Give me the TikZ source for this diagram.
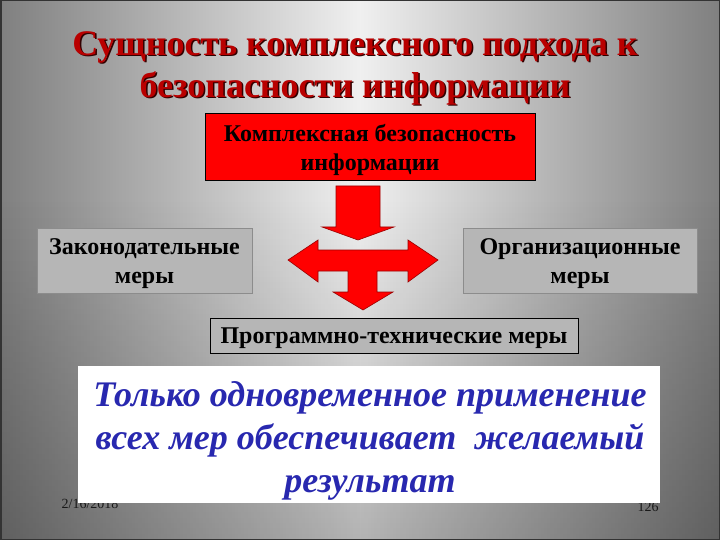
\documentclass[tikz,border=0pt]{standalone}
\usepackage{fontspec}
\setmainfont{Liberation Serif}
\usetikzlibrary{fadings}
\definecolor{titlered}{RGB}{185,0,0}
\definecolor{titleshadow}{RGB}{50,0,0}
\definecolor{boxgray}{RGB}{182,182,182}
\definecolor{textblue}{RGB}{40,40,175}

\begin{document}
\begin{tikzpicture}[x=1pt, y=-1pt,
  measure/.style={draw=black!45, fill=boxgray, inner sep=0pt},
  boxtext/.style={align=center, inner sep=0pt, yshift=-3pt,
    font=\bfseries\fontsize{24}{29}\selectfont},
  blockarrow/.style={fill=red, draw=red!60!black, line width=0.6pt, line join=miter}]
\useasboundingbox (0,0) rectangle (720,540);
% background
\shade [left color=black!50, right color=black!50, middle color=black!6] (0,0) rectangle (720,540);
\fill [black, opacity=0.25, path fading=north] (0,200) rectangle (720,540);
\draw [black!80, line width=1.5pt] (0.75,0.75) rectangle (719.25,539.25);

% title
\foreach \dx/\col in {1.5/titleshadow, 0/titlered}
  \node [text=\col, align=center, font=\bfseries\fontsize{36}{42}\selectfont]
    at (355+\dx,68+\dx) {Сущность комплексного подхода к\\безопасности информации};

% boxes
\node [measure, name=whole, fill=red, draw=black, minimum width=330, minimum height=67]
  at (370,146.5) {};
\node [measure, name=legal, minimum width=215, minimum height=65] at (144.5,260.5) {};
\node [measure, name=org, minimum width=234, minimum height=65] at (580,260.5) {};
\node [measure, name=tech, draw=black, minimum width=368, minimum height=35] at (394,335.5) {};
\node [boxtext] at (whole.center) {Комплексная безопасность\\информации};
\node [boxtext] at (legal.center) {Законодательные\\меры};
\node [boxtext] at (org.center) {Организационные\\меры};
\node [boxtext] at (tech.center) {Программно-технические меры};

% arrows
\filldraw [blockarrow] (336,186) -- (380,186) -- (380,227) -- (394,227) -- (358,240)
  -- (322,227) -- (336,227) -- cycle;
\filldraw [blockarrow] (288,260) -- (318,240) -- (318,250) -- (408,250) -- (408,240)
  -- (438,260) -- (408,282) -- (408,271) -- (377,271) -- (377,292) -- (393,292)
  -- (363,310) -- (333,292) -- (348,292) -- (348,271) -- (318,271) -- (318,282) -- cycle;

% footer
\node [name=date, font=\fontsize{14}{16}\selectfont, text=black!90] at (90,504) {2/16/2018};
\node [name=page, font=\fontsize{14}{16}\selectfont, text=black!90] at (648,507) {126};

% conclusion
\node [name=result, fill=white, minimum width=582, minimum height=137] at (369,434.5) {};
\node [text=textblue, align=center, font=\bfseries\itshape\fontsize{36}{43}\selectfont]
  at (370,441) {Только одновременное применение\\всех мер обеспечивает\ \ желаемый\\результат};
\end{tikzpicture}
\end{document}
